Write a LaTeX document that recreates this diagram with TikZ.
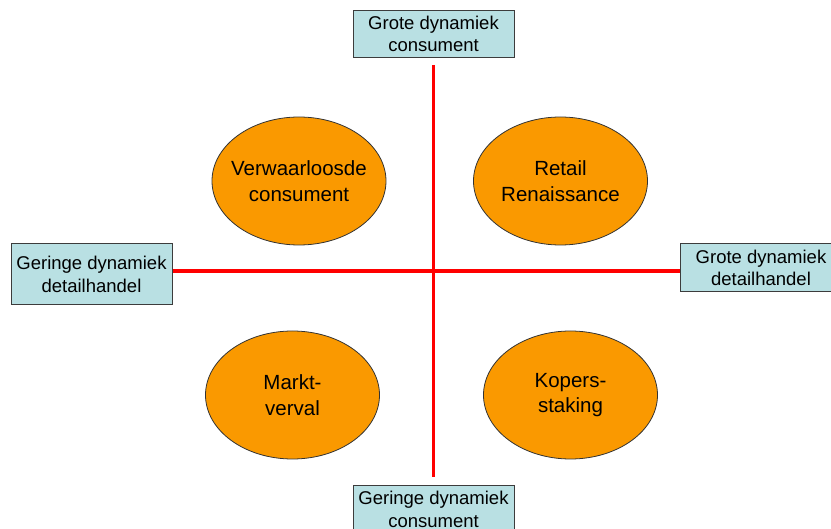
\documentclass[tikz,border=0pt]{standalone}
\usepackage{fontspec}
\setmainfont{Liberation Sans}
\usetikzlibrary{shapes.geometric}

\definecolor{boxblue}{RGB}{185,224,227}
\definecolor{blob}{RGB}{250,153,0}
\definecolor{rim}{RGB}{60,60,60}

\tikzset{
	pole/.style={draw=rim, fill=boxblue, line width=1pt, inner sep=0pt,
		minimum width=161pt, align=center,
		font=\fontsize{18.5}{22.6}\selectfont},
	scenario/.style={ellipse, draw=black!80, fill=blob, line width=0.8pt,
		inner ysep=0pt, inner xsep=-10pt, minimum width=174pt, minimum height=128pt,
		align=center, font=\fontsize{20.5}{25.5}\selectfont},
	axis/.style={red, line width=3.6pt}
}

\begin{document}
\begin{tikzpicture}[x=1pt, y=-1pt]
	\useasboundingbox (0,0) rectangle (831,529);
	% de vier polen
	\node[pole, minimum height=46.6pt] (topc) at (433.5,34) {Grote dynamiek\\consument};
	\node[pole, minimum height=47pt] (botc) at (433.5,509.5) {Geringe dynamiek\\consument};
	\node[pole, minimum height=61pt] (leftd) at (91.5,274.5) {Geringe dynamiek\\detailhandel};
	\node[pole, minimum height=48pt] (rightd) at (761,268) {Grote dynamiek\\detailhandel};
	\coordinate (cross) at (433.5,271);
	% assen
	\draw[axis, shorten <=7pt, shorten >=8pt] (topc) -- (botc);
	\draw[axis] (leftd.east |- cross) -- (rightd.west |- cross);
	% scenario's
	\node[scenario] (neglect) at (299,181) {Verwaarloosde\\consument};
	\node[scenario] (renais) at (560.5,181) {Retail\\Renaissance};
	\node[scenario] (decay) at (292.5,395) {Markt-\\verval};
	\node[scenario] (strike) at (570.5,395) {Kopers-\\staking};
\end{tikzpicture}
\end{document}
